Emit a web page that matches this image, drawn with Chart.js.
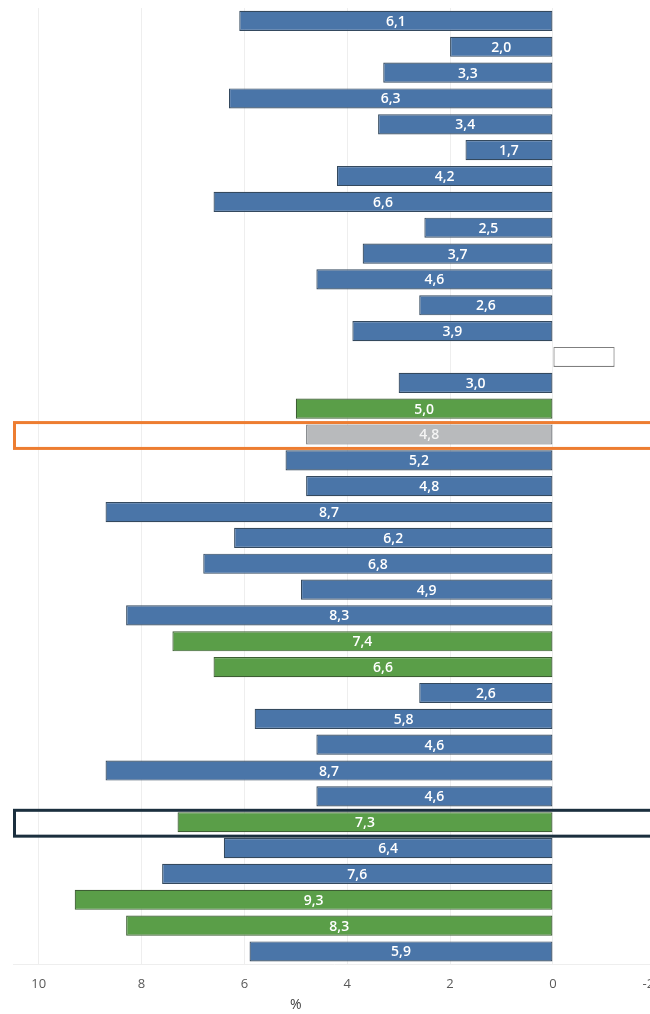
<!DOCTYPE html>
<html>
<head>
<meta charset="utf-8">
<script src="https://cdn.jsdelivr.net/npm/chart.js@4.4.1/dist/chart.umd.min.js"></script>
<style>
    html, body { margin: 0; padding: 0; background: #fff; overflow: hidden; }
    #wrap { position: relative; width: 681px; height: 1014px; }
</style>
</head>
<body>
<div id="wrap"><canvas id="chart"></canvas></div>
<script>
// Rows top to bottom
const rows = ['1','2','3','4','5','6','7','8','9','10','11','12','13','14','15','16','17','18','19',
              '20','21','22','23','24','25','26','27','28','29','30','31','32','33','34','35','36','37'];
const values = [6.1, 2.0, 3.3, 6.3, 3.4, 1.7, 4.2, 6.6, 2.5, 3.7, 4.6, 2.6, 3.9, -1.2, 3.0, 5.0, 4.8, 5.2, 4.8,
                8.7, 6.2, 6.8, 4.9, 8.3, 7.4, 6.6, 2.6, 5.8, 4.6, 8.7, 4.6, 7.3, 6.4, 7.6, 9.3, 8.3, 5.9];
// b = standard, g = group, a = average, e = empty
const groups = ['b','b','b','b','b','b','b','b','b','b','b','b','b','e','b','g','a','b','b',
                'b','b','b','b','b','g','g','b','b','b','b','b','g','b','b','g','g','b'];
const xTicks = [10, 8, 6, 4, 2, 0, -2];
const axisTitle = '%';
const highlights = [{ row: 16, color: '#ed7d31' }, { row: 31, color: '#1b2f3e' }];

const fillColors = { b: '#4a75a8', g: '#5a9e48', a: '#b8babc', e: '#ffffff' };
const borderColors = { b: '#34495e', g: '#3d5e33', a: '#6f7377', e: '#7f7f7f' };

const fmt = v => v.toFixed(1).replace('.', ',');

const barLabels = {
    id: 'barLabels',
    afterDatasetsDraw(chart) {
        const ctx = chart.ctx;
        const meta = chart.getDatasetMeta(0);
        ctx.save();
        ctx.font = '600 14px "Open Sans", sans-serif';
        ctx.textAlign = 'center';
        ctx.textBaseline = 'middle';
        meta.data.forEach((bar, i) => {
            if (groups[i] === 'e') return;
            ctx.fillStyle = groups[i] === 'a' ? '#f4f4f4' : '#ffffff';
            ctx.fillText(fmt(values[i]), (bar.x + bar.base) / 2, bar.y + 1);
        });
        ctx.restore();
    }
};

const rowBoxes = {
    id: 'rowBoxes',
    afterDatasetsDraw(chart) {
        const ctx = chart.ctx;
        const y = chart.scales.y;
        const step = y.getPixelForValue(1) - y.getPixelForValue(0);
        ctx.save();
        ctx.lineWidth = 3;
        highlights.forEach(h => {
            const cy = y.getPixelForValue(h.row);
            ctx.strokeStyle = h.color;
            ctx.strokeRect(chart.chartArea.left + 1.5, cy - step / 2 + 1, chart.width, step);
        });
        ctx.restore();
    }
};

// axis title sits over the middle of the 0..10 range
const xTitle = {
    id: 'xTitle',
    afterDraw(chart) {
        const ctx = chart.ctx;
        const x = chart.scales.x;
        ctx.save();
        ctx.font = '14px "Open Sans", sans-serif';
        ctx.fillStyle = '#404040';
        ctx.textAlign = 'center';
        ctx.textBaseline = 'middle';
        ctx.fillText(axisTitle, x.getPixelForValue(5), x.top + 41);
        ctx.restore();
    }
};

new Chart(document.getElementById('chart'), {
    type: 'bar',
    data: {
        labels: rows,
        datasets: [{
            data: values,
            backgroundColor: groups.map(g => fillColors[g]),
            borderColor: groups.map(g => borderColors[g]),
            borderWidth: 1.2,
            borderSkipped: false,
            categoryPercentage: 1,
            barPercentage: 0.78
        }]
    },
    options: {
        indexAxis: 'y',
        responsive: true,
        maintainAspectRatio: false,
        animation: false,
        layout: { padding: { top: 8, left: 13, right: 18, bottom: 10 } },
        plugins: { legend: { display: false }, tooltip: { enabled: false } },
        scales: {
            x: {
                reverse: true,
                min: -2,
                max: 10.5,
                afterBuildTicks: axis => { axis.ticks = xTicks.map(v => ({ value: v })); },
                grid: { color: '#eeeeee', drawTicks: false },
                border: { display: true, color: '#eeeeee' },
                ticks: {
                    color: '#595959',
                    padding: 12,
                    font: { family: '"Open Sans", sans-serif', size: 13 },
                    callback: v => v === -2 ? '-2\u2007\u2007' : String(v)
                }
            },
            y: {
                display: false
            }
        }
    },
    plugins: [barLabels, rowBoxes, xTitle]
});
</script>
</body>
</html>
